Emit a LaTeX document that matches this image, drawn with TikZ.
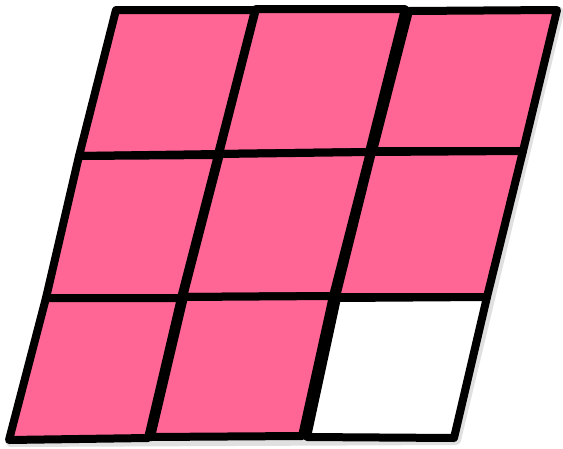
\documentclass[tikz,border=0pt]{standalone}
\definecolor{cellpink}{RGB}{255,102,150}
\begin{document}
\begin{tikzpicture}[x=1pt,y=-1pt,
  cell/.style={draw=black,line width=8pt,line join=round,fill=cellpink},
  emptycell/.style={draw=black,line width=8pt,line join=round,fill=white},
  shade/.style={draw=black!35,line width=10pt,line join=round,opacity=0.35}]
\useasboundingbox (0,0) rectangle (563,448);
% soft shadow
\draw[shade,xshift=2pt,yshift=-2pt] (116,10) -- (557,10) -- (454,438) -- (9,440) -- cycle;
% row 1
\draw[cell] (116,10) -- (255,10) -- (218,154) -- (79,156) -- cycle;
\draw[cell] (256,9) -- (405,9) -- (369,152) -- (219,154) -- cycle;
\draw[cell] (409,11) -- (557,10) -- (523,151) -- (373,151) -- cycle;
% row 2
\draw[cell] (79,156) -- (218,155) -- (181,298) -- (46,298) -- cycle;
\draw[cell] (220,154) -- (370,152) -- (333,296) -- (183,297) -- cycle;
\draw[cell] (372,152) -- (523,151) -- (487,297) -- (336,297) -- cycle;
% row 3
\draw[cell] (46,298) -- (181,298) -- (148,438) -- (9,440) -- cycle;
\draw[cell] (184,297) -- (333,296) -- (302,436) -- (151,437) -- cycle;
\draw[emptycell] (337,298) -- (487,297) -- (454,438) -- (307,437) -- cycle;
\end{tikzpicture}
\end{document}
